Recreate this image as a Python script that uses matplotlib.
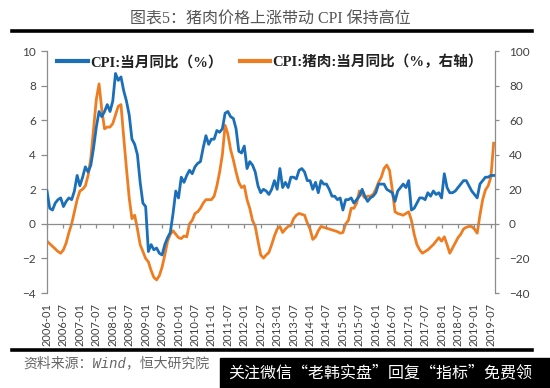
import matplotlib
matplotlib.use('Agg')
import matplotlib.pyplot as plt
from matplotlib.patches import Rectangle
import pandas as pd

# CPI: 当月同比 (%), 2006-01 .. 2019-08
cpi = [1.9, 0.9, 0.8, 1.2, 1.4, 1.5, 1.0, 1.3, 1.5, 1.4, 1.9, 2.8,
       2.2, 2.7, 3.3, 3.0, 3.4, 4.4, 5.6, 6.5, 6.2, 6.5, 6.9, 6.5,
       7.1, 8.7, 8.3, 8.5, 7.7, 7.1, 6.3, 4.9, 4.6, 4.0, 2.4, 1.2,
       1.0, -1.6, -1.2, -1.5, -1.4, -1.7, -1.8, -1.2, -0.8, -0.5, 0.6, 1.9,
       1.5, 2.7, 2.4, 2.8, 3.1, 2.9, 3.3, 3.5, 3.6, 4.4, 5.1, 4.6,
       4.9, 4.9, 5.4, 5.3, 5.5, 6.4, 6.5, 6.2, 6.1, 5.5, 4.2, 4.1,
       4.5, 3.2, 3.6, 3.4, 3.0, 2.2, 1.8, 2.0, 1.9, 1.7, 2.0, 2.5,
       2.0, 3.2, 2.1, 2.4, 2.1, 2.7, 2.7, 2.6, 3.1, 3.2, 3.0, 2.5,
       2.5, 2.0, 2.4, 1.8, 2.5, 2.3, 2.3, 2.0, 1.6, 1.6, 1.4, 1.5,
       0.8, 1.4, 1.4, 1.5, 1.2, 1.4, 1.6, 2.0, 1.6, 1.3, 1.5, 1.6,
       1.8, 2.3, 2.3, 2.3, 2.0, 1.9, 1.8, 1.3, 1.9, 2.1, 2.3, 2.1,
       2.5, 0.8, 0.9, 1.2, 1.5, 1.5, 1.4, 1.8, 1.6, 1.9, 1.7, 1.8,
       1.5, 2.9, 2.1, 1.8, 1.8, 1.9, 2.1, 2.3, 2.5, 2.5, 2.2, 1.9,
       1.7, 1.5, 2.3, 2.5, 2.7, 2.7, 2.8, 2.8]

# CPI: 猪肉: 当月同比 (%, 右轴)
pork = [-10, -11.5, -13, -14.5, -16, -17, -15, -11, -5, 0, 7, 14,
        19, 20, 22, 28, 38, 55, 72, 81, 66, 55, 56, 56,
        58, 63, 68, 69, 50, 32, 15, 3, 5, -3, -12, -16,
        -20, -22, -27, -31, -32.4, -30, -25, -18, -10, -6, -4, -6,
        -8, -8.5, -7, -7.5, 0, 2, 6, 7, 9, 12, 14, 14,
        14, 16, 22, 30, 40, 57, 52, 43, 37, 30, 24, 21,
        22, 14, 9, 2, -1.5, -10, -18, -19.8, -18, -16.5, -12, -7,
        -3, -1.5, -5, -3, -1.5, -1, 3, 5, 6, 5.5, 5, 0.5,
        -3, -9, -7.5, -4, -1.5, -2, -2.5, -3, -3.5, -4, -4.5, -5.4,
        -5, 0, 2, 9, 9, 12, 19, 17, 15, 16, 16, 17,
        20, 24, 27, 32, 34, 31, 20, 7, 6, 5.5, 5, 6,
        7, 2, -6, -12, -15, -17, -16, -15, -13.5, -12, -10, -8,
        -10, -7.5, -12, -17, -14, -11, -8, -6, -3, -2, -1.5, -1.5,
        -3, -5.4, 5, 14, 19.6, 22, 27, 46.7]

months = pd.period_range('2006-01', periods=len(cpi), freq='M').strftime('%Y-%m').tolist()
tick_idx = list(range(0, len(months), 6))

blue = '#1b6fb8'
orange = '#ee7d22'
gray = '#8c8c8c'
txt = '#404040'
cjk_serif = ['Liberation Serif', 'Noto Sans CJK SC']
cjk = ['Noto Sans CJK SC', 'DejaVu Sans']

W, H = 550, 388
fig = plt.figure(figsize=(5.5, 3.88), dpi=100)
fig.patch.set_facecolor('white')

ax = fig.add_axes([47 / W, 1 - 293 / H, 448 / W, 242 / H])
ax2 = ax.twinx()

x = list(range(len(cpi)))
l1, = ax.plot(x, cpi, color=blue, lw=2.0, label='CPI:当月同比（%）', zorder=3)
l2, = ax2.plot(x, pork, color=orange, lw=2.0, label='CPI:猪肉:当月同比（%，右轴）', zorder=2)
ax.set_zorder(ax2.get_zorder() + 1)
ax.patch.set_visible(False)

ax.set_xlim(0, len(cpi) - 0.5)
ax.set_ylim(-4, 10)
ax2.set_ylim(-40, 100)
ax.set_yticks(range(-4, 11, 2))
ax2.set_yticks(range(-40, 101, 20))

for a in (ax, ax2):
    a.spines['top'].set_visible(False)
    for s in ('left', 'right', 'bottom'):
        a.spines[s].set_color(gray)
        a.spines[s].set_linewidth(0.9)
ax.spines['right'].set_visible(False)
ax2.spines['left'].set_visible(False)
ax2.spines['bottom'].set_visible(False)
ax.spines['bottom'].set_position(('data', 0))

ax.set_xticks(tick_idx)
ax.set_xticklabels([])
ax.tick_params(axis='x', direction='out', length=3, color=gray, width=0.9)
ax.tick_params(axis='y', direction='out', length=4, color=gray, width=0.9,
               labelsize=8.5, labelcolor=txt, pad=4)
ax2.tick_params(axis='y', direction='out', length=3, color=gray, width=0.9,
                labelsize=8.5, labelcolor=txt, pad=7)
for lab in ax.get_yticklabels() + ax2.get_yticklabels():
    lab.set_family('Lato')

# date labels below the plot area
trans = ax.get_xaxis_transform()
for i in tick_idx:
    ax.text(i, -0.04, months[i], transform=trans, rotation=90, ha='center', va='top',
            fontsize=8, color=txt, family='Lato')

leg = fig.legend(handles=[l1, l2], loc='center left', ncol=2,
                 bbox_to_anchor=(57 / W, 1 - 62 / H), frameon=False,
                 borderpad=0, borderaxespad=0, handlelength=2.1, handletextpad=0.15,
                 columnspacing=1.2, prop={'family': cjk_serif, 'size': 10.5, 'weight': 'bold'})
for h in leg.get_lines():
    h.set_linewidth(3)
for t in leg.get_texts():
    t.set_color('#222222')

# title and rules
fig.text(270 / W, 1 - 20 / H, '图表5：猪肉价格上涨带动 CPI 保持高位', ha='center', va='center',
         fontsize=11.5, color='#555555', family=cjk_serif)
fig.add_artist(plt.Line2D([12 / W, 532 / W], [1 - 31 / H] * 2, color='black', lw=2.6))
fig.add_artist(plt.Line2D([12 / W, 532 / W], [1 - 350 / H] * 2, color='black', lw=2.6))

fig.text(23 / W, 1 - 363 / H, '资料来源：Wind，恒大研究院', ha='left', va='center',
         fontsize=10, color='#666666', family=['Liberation Mono', 'Noto Sans CJK SC'],
         style='italic')

# watermark banner
fig.add_artist(Rectangle((220 / W, 0), 330 / W, 30 / H, transform=fig.transFigure,
                         color='black', zorder=5))
fig.text(228 / W, 15 / H, '关注微信“老韩实盘”回复“指标”免费领', ha='left', va='center',
         fontsize=11.5, color='white', family=cjk, zorder=6)

fig.savefig('out.png', dpi=100)
